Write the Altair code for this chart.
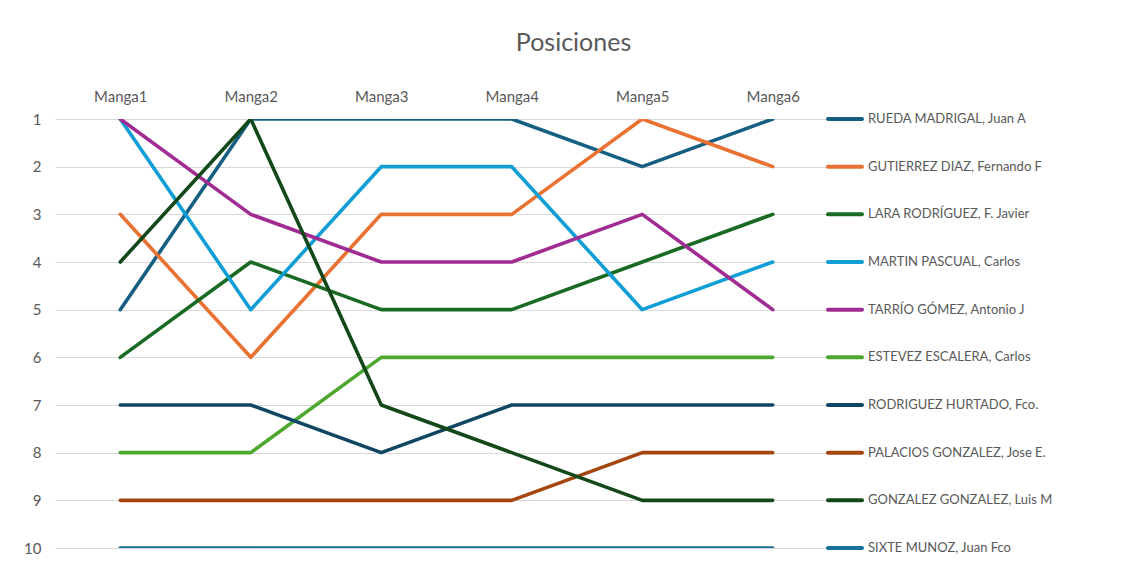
import altair as alt
import pandas as pd

mangas = ["Manga1", "Manga2", "Manga3", "Manga4", "Manga5", "Manga6"]
pilotos = [
    "RUEDA MADRIGAL, Juan A",
    "GUTIERREZ DIAZ, Fernando F",
    "LARA RODRÍGUEZ, F. Javier",
    "MARTIN PASCUAL, Carlos",
    "TARRÍO GÓMEZ, Antonio J",
    "ESTEVEZ ESCALERA, Carlos",
    "RODRIGUEZ HURTADO, Fco.",
    "PALACIOS GONZALEZ, Jose E.",
    "GONZALEZ GONZALEZ, Luis M",
    "SIXTE MUNOZ, Juan Fco",
]
rueda = [5, 1, 1, 1, 2, 1]
gutierrez = [3, 6, 3, 3, 1, 2]
lara = [6, 4, 5, 5, 4, 3]
martin = [1, 5, 2, 2, 5, 4]
tarrio = [1, 3, 4, 4, 3, 5]
estevez = [8, 8, 6, 6, 6, 6]
rodriguez = [7, 7, 8, 7, 7, 7]
palacios = [9, 9, 9, 9, 8, 8]
gonzalez = [4, 1, 7, 8, 9, 9]
sixte = [10, 10, 10, 10, 10, 10]
series = [rueda, gutierrez, lara, martin, tarrio, estevez, rodriguez, palacios, gonzalez, sixte]
colores = ["#156082", "#E97132", "#196B24", "#0F9ED5", "#A02B93",
           "#4EA72E", "#0F4663", "#A5460F", "#12481A", "#16709A"]
legend_pos = list(range(1, 11))

rows = []
for i, (p, vals) in enumerate(zip(pilotos, series)):
    for m, v in zip(mangas, vals):
        rows.append({"Piloto": p, "Manga": m, "Posicion": v, "orden": i})
df = pd.DataFrame(rows)
leg = pd.DataFrame({"Piloto": pilotos, "Posicion": legend_pos})

FONT = "Lato"
GREY = "#595959"

color = alt.Color("Piloto:N", scale=alt.Scale(domain=pilotos, range=colores), legend=None)
yscale = alt.Scale(domain=[1, 10], reverse=True, nice=False, zero=False)
yaxis = alt.Axis(title=None, values=list(range(1, 11)), domain=False, ticks=False,
                 labelPadding=14, labelFontSize=15, labelColor=GREY, labelFont=FONT,
                 grid=True, gridColor="#D9D9D9", gridWidth=1)

lines = alt.Chart(df).mark_line(strokeWidth=3.6, strokeCap="round", strokeJoin="round",
                                clip=True).encode(
    x=alt.X("Manga:N", sort=mangas, scale=alt.Scale(type="point", padding=0.5),
            axis=alt.Axis(orient="top", title=None, labelAngle=0, domain=False, ticks=False,
                          labelPadding=15, labelFontSize=15, labelColor=GREY, labelFont=FONT,
                          grid=False)),
    y=alt.Y("Posicion:Q", scale=yscale, axis=yaxis),
    color=color,
    order=alt.Order("orden:Q"),
    detail="Piloto:N",
)

leg_sym = alt.Chart(leg).mark_tick(orient="horizontal", size=38, thickness=4,
                                    cornerRadius=2, opacity=1).encode(
    x=alt.value(790),
    y=alt.Y("Posicion:Q", scale=yscale, axis=yaxis),
    color=color,
)
leg_text = alt.Chart(leg).mark_text(align="left", baseline="middle", fontSize=13,
                                     font=FONT, color=GREY).encode(
    x=alt.value(813),
    y=alt.Y("Posicion:Q", scale=yscale, axis=yaxis),
    text="Piloto:N",
)

chart = alt.layer(lines, leg_sym, leg_text).properties(
    width=783, height=429,
    background="white",
    title=alt.TitleParams("Posiciones", fontSize=25, font=FONT, color=GREY, fontWeight="normal",
                          anchor="middle", dx=127, offset=33),
    autosize=alt.AutoSizeParams(type="none"),
    padding={"left": 47, "top": 111, "right": 284, "bottom": 7},
).configure_view(stroke="transparent", strokeWidth=0).configure_axis(domain=False)

chart.save("out.html", embed_options={"renderer": "svg", "actions": False})
